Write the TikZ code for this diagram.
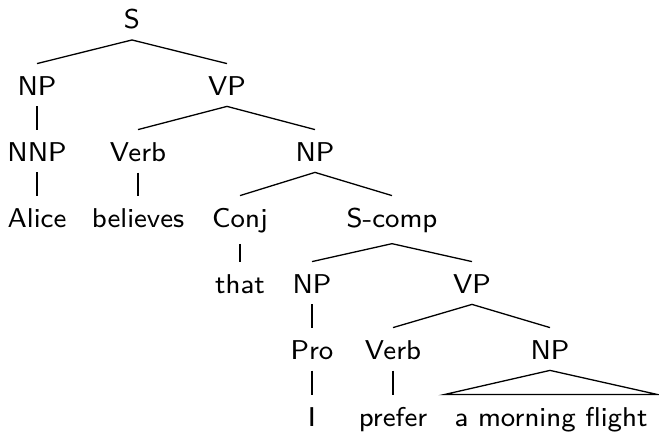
\documentclass[tikz,border=0pt]{standalone}
\usepackage{fontspec}
\newfontfamily\treefont{lmsans8-regular.otf}
\begin{document}
\begin{tikzpicture}[x=0.5pt,y=-0.5pt,
  lab/.style={font=\fontsize{13.6}{16}\treefont, anchor=base, text height=11pt, inner xsep=2pt, inner ysep=5pt},
  br/.style={line width=0.65pt}]
\useasboundingbox (0,0) rectangle (659,432);
\node[lab] (s) at (132,29) {S};
\node[lab] (np1) at (37,96) {NP};
\node[lab] (vp1) at (227,96) {VP};
\node[lab] (nnp) at (37,162) {NNP};
\node[lab] (verb1) at (138,162) {Verb};
\node[lab] (np2) at (315,162) {NP};
\node[lab] (alice) at (37,228) {Alice};
\node[lab] (believes) at (138,228) {believes};
\node[lab] (conj) at (240,228) {Conj};
\node[lab] (scomp) at (392,228) {S-comp};
\node[lab] (that) at (240,294) {that};
\node[lab] (np3) at (312,294) {NP};
\node[lab] (vp2) at (472,294) {VP};
\node[lab] (pro) at (312,360) {Pro};
\node[lab] (verb2) at (393,360) {Verb};
\node[lab] (np4) at (550,360) {NP};
\node[lab] (i) at (312,427) {I};
\node[lab] (prefer) at (393,427) {prefer};
\node[lab, inner xsep=5pt] (amf) at (551,427) {a morning flight};
\draw[br] (np1.north) -- (s.south) -- (vp1.north);
\draw[br] (np1.south) -- (nnp.north);
\draw[br] (nnp.south) -- (alice.north);
\draw[br] (verb1.north) -- (vp1.south) -- (np2.north);
\draw[br] (verb1.south) -- (believes.north);
\draw[br] (conj.north) -- (np2.south) -- (scomp.north);
\draw[br] (conj.south) -- (that.north);
\draw[br] (np3.north) -- (scomp.south) -- (vp2.north);
\draw[br] (np3.south) -- (pro.north);
\draw[br] (pro.south) -- (i.north);
\draw[br] (verb2.north) -- (vp2.south) -- (np4.north);
\draw[br] (verb2.south) -- (prefer.north);
\draw[br] (np4.south) -- (amf.north west) -- (amf.north east) -- cycle;
\end{tikzpicture}
\end{document}
